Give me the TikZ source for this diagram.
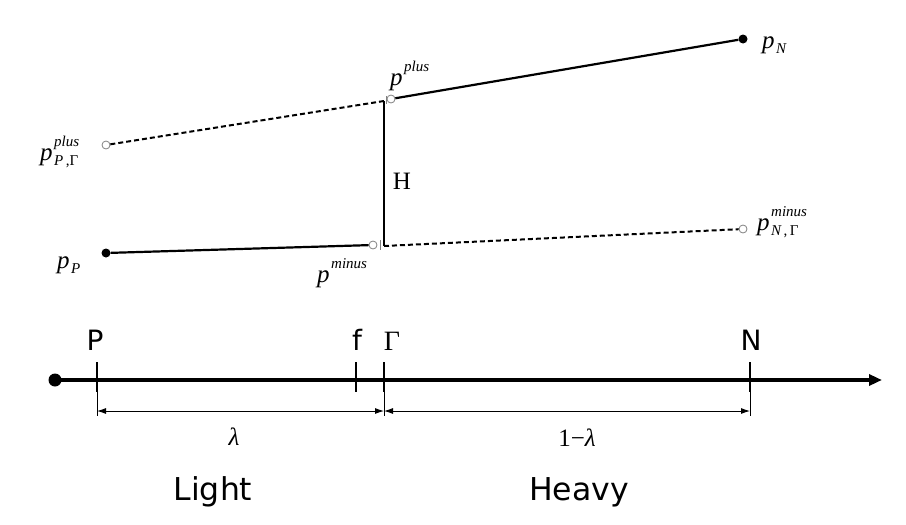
\documentclass[tikz,border=0pt]{standalone}
\usepackage{fontspec}
\setmainfont{Liberation Serif}
\newfontfamily\sanslab{DejaVu Sans}
\usetikzlibrary{arrows.meta}
\newsavebox\supbox
\newsavebox\subbox
\newcommand{\pss}[2]{\textit{p}\hspace{1.5pt}%
 \sbox\supbox{\fontsize{15}{16}\selectfont\itshape #1}%
 \sbox\subbox{\fontsize{15}{16}\selectfont #2}%
 \rlap{\raisebox{14pt}{\usebox\supbox}}\rlap{\raisebox{-5pt}{\usebox\subbox}}%
 \hspace{\ifdim\wd\supbox>\wd\subbox \wd\supbox\else\wd\subbox\fi}}
\begin{document}
\begin{tikzpicture}[x=1pt,y=-1pt,
  lbl/.style={inner sep=0pt, font=\fontsize{25}{30}\selectfont},
  plbl/.style={inner sep=0pt, anchor=base west, font=\fontsize{25}{30}\selectfont},
  slbl/.style={inner sep=0pt, font=\sanslab\fontsize{28}{32}\selectfont},
  big/.style={inner sep=0pt, font=\sanslab\fontsize{31.5}{36}\selectfont},
  dotf/.style={circle, fill=black, inner sep=0pt, minimum size=9pt},
  doto/.style={circle, draw=gray, fill=white, line width=0.8pt, inner sep=0pt, minimum size=8pt},
  seg/.style={line width=2.2pt},
  dseg/.style={line width=2pt, dash pattern=on 5pt off 3pt},
  mini/.style={line width=0.8pt, draw=gray},
  tick/.style={line width=1.4pt},
  ext/.style={line width=0.8pt},
  dim/.style={line width=0.9pt, {Latex[length=9pt,width=6pt]}-{Latex[length=9pt,width=6pt]}}]
\useasboundingbox (0,0) rectangle (906,525);
% upper part
\node[dotf] (pP) at (106,253) {};
\node[doto] (pminus) at (373,245) {};
\node[doto] (pplus) at (391,99) {};
\node[dotf] (pN) at (743,39) {};
\node[doto] (pPG) at (106,145) {};
\node[doto] (pNG) at (743,229) {};
\coordinate (vtop) at (384,101);
\coordinate (vbot) at (384,246);
\draw[seg] (pP) -- (pminus);
\draw[seg] (pplus) -- (pN);
\draw[dseg] (pPG) -- (vtop);
\draw[dseg] (vbot) -- (pNG);
\draw[seg] (vtop) -- (vbot);
\coordinate (m1) at (380,240); \coordinate (m2) at (380,250);
\coordinate (m3) at (386,96);  \coordinate (m4) at (386,104);
\draw[mini] (m1) -- (m2);
\draw[mini] (m3) -- (m4);
\node[lbl] (Hl) at (402,181) {H};
\node[plbl] (lpplus) at (390,85) {\pss{plus}{}};
\node[plbl] (lpPG) at (40,160) {\pss{plus}{\itshape P\upshape\,,Γ}};
\node[plbl] (lpP) at (57,268) {\pss{}{\itshape P}};
\node[plbl] (lpminus) at (317,282) {\pss{minus}{}};
\node[plbl] (lpN) at (762,48) {\pss{}{\itshape N}};
\node[plbl] (lpNG) at (757,230) {\pss{minus}{\itshape N\upshape\,,\,Γ}};
% axis
\node[dotf, minimum size=13pt] (o) at (55,380) {};
\coordinate (aend) at (882,380);
\draw[line width=3.5pt, -{Triangle[length=13pt,width=11pt]}] (o.center) -- (aend);
\coordinate (tP1) at (97,362);  \coordinate (tP2) at (97,392);  \coordinate (tP3) at (97,416);
\coordinate (tf1) at (356,362); \coordinate (tf2) at (356,392);
\coordinate (tG1) at (384,362); \coordinate (tG2) at (384,392); \coordinate (tG3) at (384,416);
\coordinate (tN1) at (750,362); \coordinate (tN2) at (750,392); \coordinate (tN3) at (750,416);
\draw[tick] (tP1) -- (tP2);
\draw[tick] (tf1) -- (tf2);
\draw[tick] (tG1) -- (tG2);
\draw[tick] (tN1) -- (tN2);
\draw[ext] (tP2) -- (tP3);
\draw[ext] (tG2) -- (tG3);
\draw[ext] (tN2) -- (tN3);
\coordinate (dP) at (97,411);
\coordinate (dG) at (384,411);
\coordinate (dN) at (750,411);
\draw[dim] (dP) -- (dG);
\draw[dim] (dG) -- (dN);
\node[slbl] (lP) at (95,340) {P};
\node[slbl] (lf) at (357,340) {f};
\node[lbl, font=\fontsize{28}{32}\selectfont] (lG) at (392,341) {Γ};
\node[slbl] (lN) at (751,340) {N};
\node[lbl] (lam) at (234,437) {\textit{λ}};
\node[lbl] (oml) at (577,438) {1−\textit{λ}};
\node[big] (light) at (213,492) {Light};
\node[big] (heavy) at (579,492) {Heavy};
\end{tikzpicture}
\end{document}
